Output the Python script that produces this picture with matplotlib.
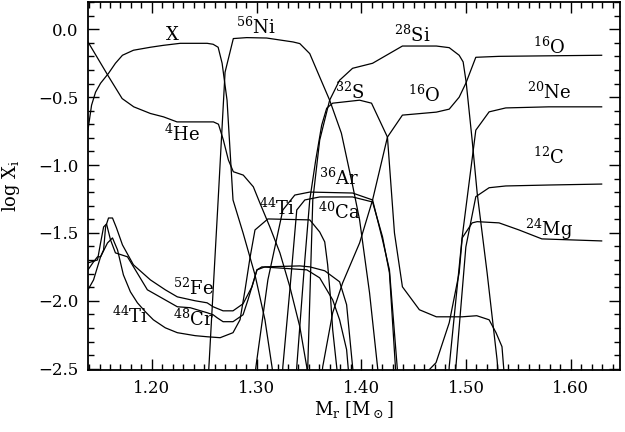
import matplotlib
matplotlib.use("Agg")
import matplotlib.pyplot as plt
from matplotlib.ticker import MultipleLocator, FuncFormatter

plt.rcParams['font.family'] = ['DejaVu Serif']
plt.rcParams['mathtext.fontset'] = 'dejavuserif'

# abundance profiles, log X_i versus M_r
x_X = [1.139, 1.1424, 1.1462, 1.151, 1.1586, 1.1652, 1.1719, 1.1824, 1.1986, 1.2109, 1.2271,
       1.2528, 1.2585, 1.2633, 1.2671, 1.2718, 1.2775, 1.2871, 1.2985, 1.3080, 1.3147, 1.3170]
y_X = [-0.74, -0.559, -0.463, -0.397, -0.324, -0.250, -0.191, -0.154, -0.132, -0.118, -0.103,
       -0.103, -0.110, -0.132, -0.250, -0.522, -1.257, -1.500, -1.809, -2.140, -2.485, -2.62]

x_He4 = [1.139, 1.1589, 1.1716, 1.1827, 1.1986, 1.2112, 1.2240, 1.2588, 1.2636, 1.2683, 1.2731,
         1.2778, 1.2873, 1.2969, 1.3032, 1.3127, 1.3223, 1.3318, 1.3413, 1.3479, 1.3498]
y_He4 = [-0.093, -0.351, -0.510, -0.571, -0.620, -0.645, -0.682, -0.682, -0.699, -0.816, -0.963,
         -1.049, -1.074, -1.160, -1.280, -1.456, -1.647, -1.897, -2.191, -2.485, -2.62]

x_Ni56 = [1.2538, 1.2633, 1.2699, 1.2778, 1.2906, 1.3096, 1.3349, 1.3413, 1.3508, 1.3603, 1.3698,
          1.3810, 1.3920, 1.3984, 1.4079, 1.4155, 1.4174]
y_Ni56 = [-2.581, -1.258, -0.316, -0.068, -0.061, -0.064, -0.093, -0.105, -0.179, -0.351, -0.522,
          -0.765, -1.160, -1.404, -1.941, -2.485, -2.618]

x_Si28 = [1.3470, 1.3489, 1.3537, 1.3603, 1.3698, 1.3793, 1.3917, 1.4108, 1.4393, 1.4717, 1.4840,
          1.4935, 1.4973, 1.5002, 1.5059, 1.5107, 1.5202, 1.5297, 1.5316]
y_Si28 = [-2.618, -2.485, -1.257, -0.816, -0.522, -0.375, -0.287, -0.250, -0.123, -0.123, -0.135,
          -0.191, -0.240, -0.390, -0.816, -1.206, -1.794, -2.434, -2.618]

x_S32 = [1.3375, 1.3384, 1.3461, 1.3508, 1.3565, 1.3622, 1.3670, 1.3727, 1.3984, 1.4098, 1.4250,
         1.4317, 1.4393, 1.4555, 1.4717, 1.4964, 1.5103, 1.5221, 1.5287, 1.5344, 1.5373]
y_S32 = [-2.618, -2.485, -1.699, -1.257, -0.963, -0.706, -0.581, -0.544, -0.522, -0.544, -0.794,
         -1.500, -1.897, -2.066, -2.118, -2.118, -2.110, -2.140, -2.235, -2.338, -2.618]

x_O16 = [1.3613, 1.3632, 1.3727, 1.3822, 1.3984, 1.4108, 1.4250, 1.4393, 1.4717, 1.4840, 1.4935,
         1.4999, 1.5094, 1.5316, 1.6296]
y_O16 = [-2.618, -2.485, -2.088, -1.868, -1.574, -1.257, -0.794, -0.632, -0.610, -0.588, -0.500,
         -0.397, -0.206, -0.199, -0.191]

x_Ne20 = [1.4831, 1.4840, 1.4964, 1.5094, 1.5221, 1.5380, 1.5791, 1.6296]
y_Ne20 = [-2.618, -2.485, -1.529, -0.743, -0.608, -0.579, -0.571, -0.571]

x_C12 = [1.4888, 1.4904, 1.4999, 1.5094, 1.5221, 1.5380, 1.5791, 1.6296]
y_C12 = [-2.618, -2.485, -1.603, -1.233, -1.167, -1.154, -1.147, -1.140]

x_Mg24 = [1.4631, 1.4650, 1.4714, 1.4840, 1.4935, 1.4964, 1.5059, 1.5107, 1.5316, 1.5506, 1.5725,
          1.6296]
y_Mg24 = [-2.618, -2.507, -2.456, -2.162, -1.794, -1.537, -1.426, -1.417, -1.426, -1.478, -1.544,
          -1.559]

x_Ar36 = [1.2975, 1.2994, 1.3108, 1.3251, 1.3365, 1.3508, 1.3917, 1.4108, 1.4203, 1.4269, 1.4345,
          1.4364]
y_Ar36 = [-2.618, -2.485, -1.846, -1.331, -1.221, -1.199, -1.206, -1.257, -1.551, -1.772, -2.507,
          -2.618]

x_Ca40 = [1.3242, 1.3251, 1.3318, 1.3384, 1.3461, 1.3603, 1.3917, 1.4108, 1.4203, 1.4269, 1.4326,
          1.4336]
y_Ca40 = [-2.618, -2.485, -1.919, -1.331, -1.257, -1.235, -1.235, -1.272, -1.529, -1.794, -2.485,
          -2.618]

x_Ti44 = [1.139, 1.1443, 1.151, 1.1576, 1.1624, 1.1672, 1.1728, 1.1795, 1.1862, 1.1938, 1.2014,
          1.2128, 1.2243, 1.2414, 1.2528, 1.2652, 1.2775, 1.2842, 1.2890, 1.2937, 1.2985, 1.3108,
          1.3508, 1.3603, 1.3651, 1.3679, 1.3708, 1.3727, 1.3765, 1.3784]
y_Ti44 = [-1.919, -1.846, -1.676, -1.574, -1.537, -1.625, -1.809, -1.934, -2.015, -2.081, -2.140,
          -2.199, -2.235, -2.257, -2.265, -2.272, -2.235, -2.140, -1.919, -1.684, -1.478, -1.397,
          -1.404, -1.493, -1.566, -1.735, -1.993, -2.213, -2.485, -2.618]

x_Fe52 = [1.139, 1.1443, 1.1481, 1.151, 1.1539, 1.1558, 1.1586, 1.1624, 1.1662, 1.1719, 1.1824,
          1.1986, 1.2128, 1.2243, 1.2414, 1.2528, 1.2585, 1.2680, 1.2775, 1.2871, 1.2956, 1.3004,
          1.3080, 1.3413, 1.3508, 1.3651, 1.3793, 1.3860, 1.3917, 1.3936]
y_Fe52 = [-1.772, -1.713, -1.676, -1.676, -1.625, -1.456, -1.390, -1.390, -1.463, -1.588, -1.735,
          -1.846, -1.919, -1.971, -2.000, -2.015, -2.044, -2.074, -2.074, -2.022, -1.897, -1.772,
          -1.750, -1.743, -1.750, -1.779, -1.860, -2.029, -2.485, -2.618]

x_Cr48 = [1.139, 1.1481, 1.151, 1.1539, 1.1567, 1.1605, 1.1652, 1.1767, 1.1957, 1.2243, 1.2366,
          1.2528, 1.2585, 1.2623, 1.2680, 1.2775, 1.2871, 1.2918, 1.3004, 1.3051, 1.3480, 1.3603,
          1.3727, 1.3793, 1.3860, 1.3889]
y_Cr48 = [-1.721, -1.699, -1.574, -1.456, -1.434, -1.551, -1.647, -1.676, -1.919, -2.044, -2.051,
          -2.088, -2.103, -2.125, -2.154, -2.154, -2.103, -1.993, -1.772, -1.750, -1.772, -1.831,
          -1.993, -2.140, -2.360, -2.618]

curves = [(x_X, y_X), (x_He4, y_He4), (x_Ni56, y_Ni56), (x_Si28, y_Si28), (x_S32, y_S32),
          (x_O16, y_O16), (x_Ne20, y_Ne20), (x_C12, y_C12), (x_Mg24, y_Mg24), (x_Ar36, y_Ar36),
          (x_Ca40, y_Ca40), (x_Ti44, y_Ti44), (x_Fe52, y_Fe52), (x_Cr48, y_Cr48)]

# species labels and where they sit
label_text = ['X', r'$^{56}$Ni', r'$^{4}$He', r'$^{28}$Si', r'$^{16}$O', r'$^{32}$S', r'$^{16}$O',
              r'$^{20}$Ne', r'$^{12}$C', r'$^{36}$Ar', r'$^{40}$Ca', r'$^{44}$Ti', r'$^{24}$Mg',
              r'$^{52}$Fe', r'$^{48}$Cr', r'$^{44}$Ti']
label_x = [1.2195, 1.2994, 1.2290, 1.4488, 1.5791, 1.3888, 1.4602, 1.5791, 1.5791, 1.3793, 1.3793,
           1.3194, 1.5791, 1.2394, 1.2394, 1.1795]
label_y = [-0.044, 0.015, -0.772, -0.044, -0.132, -0.463, -0.485, -0.463, -0.941, -1.096, -1.346,
           -1.316, -1.471, -1.904, -2.132, -2.110]

fig = plt.figure(figsize=(6.25, 4.32), dpi=100)
ax = fig.add_axes([0.1408, 0.1435, 0.851, 0.853])

for xs, ys in curves:
    ax.plot(xs, ys, color='black', lw=0.9)

for t, lx, ly in zip(label_text, label_x, label_y):
    ax.text(lx, ly, t, ha='center', va='center', fontsize=13)

ax.set_xlim(1.139, 1.647)
ax.set_ylim(-2.51, 0.205)

ax.xaxis.set_major_locator(MultipleLocator(0.1))
ax.xaxis.set_minor_locator(MultipleLocator(0.01))
ax.yaxis.set_major_locator(MultipleLocator(0.5))
ax.yaxis.set_minor_locator(MultipleLocator(0.1))
ax.xaxis.set_major_formatter(FuncFormatter(lambda v, p: ('%.2f' % v).replace('-', '\u2212')))
ax.yaxis.set_major_formatter(FuncFormatter(lambda v, p: ('%.1f' % v).replace('-', '\u2212')))

ax.tick_params(which='both', direction='in', top=True, right=True, labelsize=12, width=1.0)
ax.tick_params(which='major', length=8, pad=7)
ax.tick_params(which='minor', length=4)
for s in ax.spines.values():
    s.set_linewidth(1.3)

ax.set_xlabel(r'M$_{\rm r}$ [M$_\odot$]', fontsize=13)
ax.set_ylabel(r'log X$_{\rm i}$', fontsize=13)
ax.xaxis.set_label_coords(0.5, -0.08)
ax.yaxis.set_label_coords(-0.125, 0.5)

fig.savefig('out.png', dpi=100)
